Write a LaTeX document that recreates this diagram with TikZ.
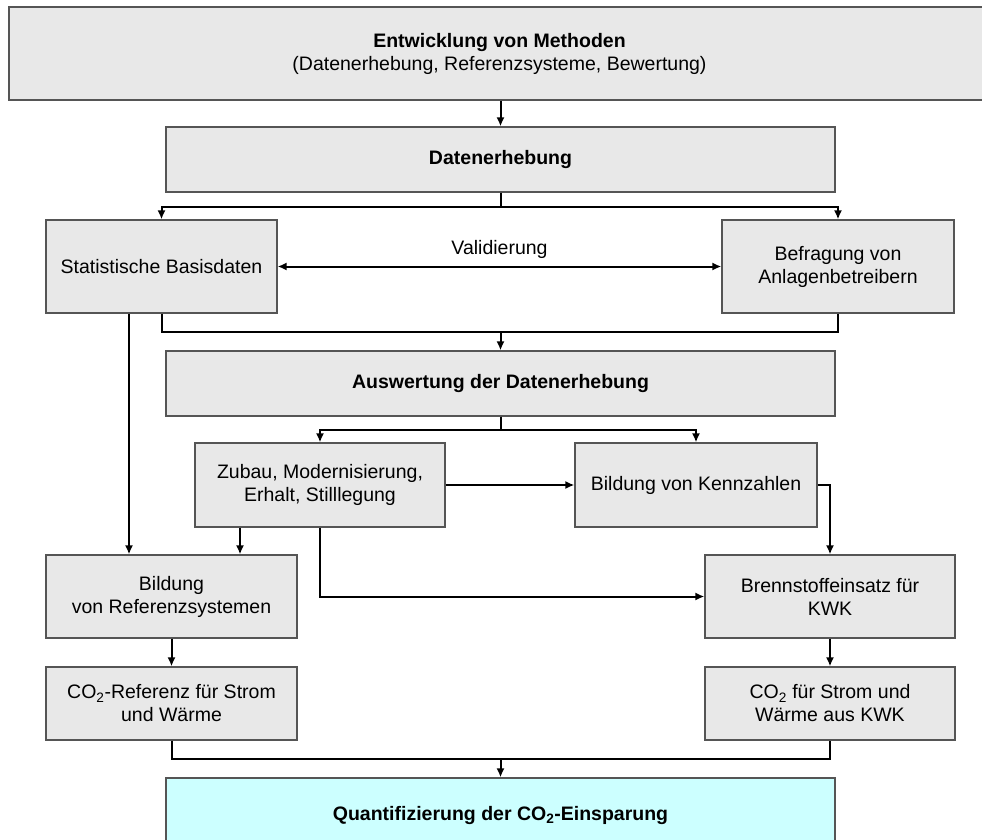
\documentclass[tikz,border=0pt]{standalone}
\usepackage{fontspec}
\setmainfont{Liberation Sans}
\usepackage{xcolor}
\usetikzlibrary{arrows.meta}
\definecolor{boxgray}{HTML}{E8E8E8}
\definecolor{boxcyan}{HTML}{CCFFFF}
\definecolor{boxline}{HTML}{555555}
\tikzset{x=1pt,y=-1pt,
 every node/.style={font=\fontsize{19.5}{23}\selectfont},
 box/.style={draw=boxline,line width=1.2pt,fill=boxgray,align=center,inner sep=0pt},
 endbox/.style={box,fill=boxcyan},
 conn/.style={line width=2pt,-{Latex[length=9pt,width=8pt]}},
 line/.style={line width=2pt},
 }

\begin{document}
\begin{tikzpicture}
        \useasboundingbox (0,0) rectangle (982,840);
        % boxes
        \node [box, minimum width=981, minimum height=93] (meth) at (499.5, 53.5)
            {\textbf{Entwicklung von Methoden}\\(Datenerhebung, Referenzsysteme, Bewertung)};
        \node [box, minimum width=669, minimum height=65] (daten) at (500.5, 159.5) {\textbf{Datenerhebung}};
        \node [box, minimum width=231, minimum height=93] (stat) at (161.5, 266.5) {Statistische Basisdaten};
        \node [box, minimum width=232, minimum height=93] (befr) at (838, 266.5) {Befragung von\\Anlagenbetreibern};
        \node [box, minimum width=669, minimum height=65] (ausw) at (500.5, 383.5) {\textbf{Auswertung der Datenerhebung}};
        \node [box, minimum width=250, minimum height=84] (zubau) at (320, 485) {Zubau, Modernisierung,\\Erhalt, Stilllegung};
        \node [box, minimum width=242, minimum height=84] (kenn) at (696, 485) {Bildung von Kennzahlen};
        \node [box, minimum width=251, minimum height=83] (bref) at (171.5, 596.5) {Bildung\\von Referenzsystemen};
        \node [box, minimum width=250, minimum height=83] (brenn) at (830, 596.5) {Brennstoffeinsatz für\\KWK};
        \node [box, minimum width=251, minimum height=73] (co2ref) at (171.5, 703.5) {CO\textsubscript{2}-Referenz für Strom\\und Wärme};
        \node [box, minimum width=250, minimum height=73] (co2kwk) at (830, 703.5) {CO\textsubscript{2} für Strom und\\Wärme aus KWK};
        \node [endbox, minimum width=669, minimum height=74] (quant) at (500.5, 815) {\textbf{Quantifizierung der CO\textsubscript{2}-Einsparung}};
        % connectors
        \draw [conn] (meth.south -| daten.north) -- (daten.north);
        \draw [conn] (daten.south) -- ++(0,14) -| (stat.north);
        \draw [conn] (daten.south) -- ++(0,14) -| (befr.north);
        \draw [line width=2pt, {Latex[length=9pt,width=8pt]}-{Latex[length=9pt,width=8pt]}] (stat.east) -- node [above=4pt] (vali) {Validierung} (befr.west);
        \coordinate (j1) at (500.5, 332);
        \draw [line] (stat.south) |- (j1) -| (befr.south);
        \draw [conn] (j1) -- (ausw.north);
        \path ([xshift=-32.5]stat.south) coordinate (s1);
        \draw [conn] (s1) -- (s1 |- bref.north);
        \draw [conn] (ausw.south) -- ++(0,13) -| (zubau.north);
        \draw [conn] (ausw.south) -- ++(0,13) -| (kenn.north);
        \draw [conn] (zubau.east) -- (kenn.west);
        \draw [conn] (kenn.east) -| (brenn.north);
        \path ([xshift=-80]zubau.south) coordinate (z1);
        \draw [conn] (z1) -- (z1 |- bref.north);
        \draw [conn] (zubau.south) |- (brenn.west);
        \draw [conn] (bref.south) -- (co2ref.north);
        \draw [conn] (brenn.south) -- (co2kwk.north);
        \coordinate (j2) at (500.5, 759);
        \draw [line] (co2ref.south) |- (j2) -| (co2kwk.south);
        \draw [conn] (j2) -- (quant.north);
    \end{tikzpicture}
\end{document}
